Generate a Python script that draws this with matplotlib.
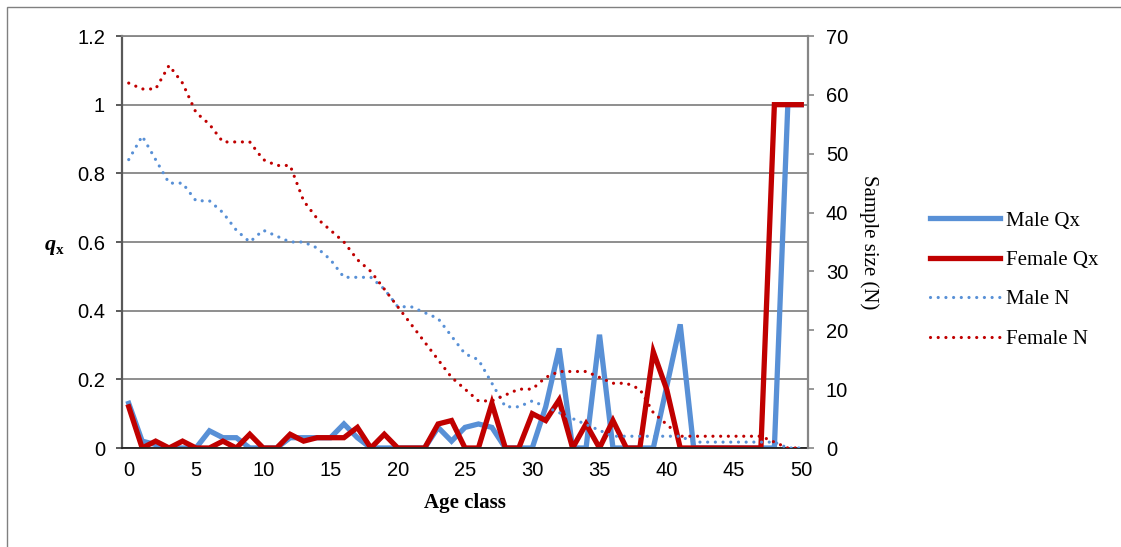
import numpy as np
import matplotlib.pyplot as plt
from matplotlib.patches import Rectangle

# age classes 0..50
age = np.arange(51)

male_qx = [0.13, 0.02, 0.01, 0, 0, 0, 0.05, 0.03, 0.03, 0, 0,
           0, 0.03, 0.03, 0.03, 0.03, 0.07, 0.03, 0, 0, 0,
           0, 0, 0.06, 0.02, 0.06, 0.07, 0.06, 0, 0, 0,
           0.12, 0.29, 0, 0, 0.33, 0, 0, 0, 0, 0.18,
           0.36, 0, 0, 0, 0, 0, 0, 0, 1, 1]

female_qx = [0.12, 0, 0.02, 0, 0.02, 0, 0, 0.02, 0, 0.04, 0,
             0, 0.04, 0.02, 0.03, 0.03, 0.03, 0.06, 0, 0.04, 0,
             0, 0, 0.07, 0.08, 0, 0, 0.13, 0, 0, 0.10,
             0.08, 0.14, 0, 0.07, 0, 0.08, 0, 0, 0.28, 0.17,
             0, 0, 0, 0, 0, 0, 0, 1, 1, 1]

male_n = [49, 53, 49, 45, 45, 42, 42, 40, 37, 35, 37,
          36, 35, 35, 34, 32, 29, 29, 29, 27, 24,
          24, 23, 22, 19, 16, 15, 11, 7, 7, 8,
          7, 6, 5, 4, 3, 2, 2, 2, 2, 2,
          2, 1, 1, 1, 1, 1, 1, 1, 0, 0]

female_n = [62, 61, 61, 65, 62, 57, 55, 52, 52, 52, 49,
            48, 48, 42, 39, 37, 35, 32, 30, 27, 24,
            21, 18, 15, 12, 10, 8, 8, 9, 10, 10,
            12, 13, 13, 13, 12, 11, 11, 10, 6, 4,
            2, 2, 2, 2, 2, 2, 2, 1, 0, 0]

blue = '#5890D6'
red = '#C00000'
W, H = 1121, 547

fig = plt.figure(figsize=(W / 100, H / 100), dpi=100)
fig.patches.append(Rectangle((7 / W, -0.1), 1.2, 1 - 7 / H + 0.1, transform=fig.transFigure,
                             fill=False, edgecolor='#808080', lw=1.0))

ax = fig.add_axes([122 / W, 1 - 448 / H, (808 - 122) / W, (448 - 36) / H])
ax2 = ax.twinx()

ax.plot(age, male_qx, color=blue, lw=3.8, solid_joinstyle='miter', label='Male Qx')
ax.plot(age, female_qx, color=red, lw=3.8, solid_joinstyle='miter', label='Female Qx')
dots = (0, (0.01, 2.4))
ax2.plot(age, male_n, color=blue, lw=2.3, ls=dots, dash_capstyle='round', label='Male N')
ax2.plot(age, female_n, color=red, lw=2.3, ls=dots, dash_capstyle='round', label='Female N')

ax.set_xlim(-0.5, 50.5)
ax.set_ylim(0, 1.2)
ax2.set_ylim(0, 70)

ax.set_xticks(np.arange(0, 51, 5))
ax.set_yticks(np.arange(0, 1.21, 0.2))
ax.set_yticklabels([f'{v:g}' for v in np.arange(0, 1.21, 0.2).round(1)])
ax2.set_yticks(np.arange(0, 71, 10))

ax.yaxis.grid(True, color='#868686', lw=1.3)
ax.set_axisbelow(True)

for lab in ax.get_xticklabels() + ax.get_yticklabels() + ax2.get_yticklabels():
    lab.set_fontfamily('Liberation Sans')
    lab.set_fontsize(14.5)

ax.tick_params(axis='x', length=0, pad=9)
ax.tick_params(axis='y', direction='out', length=4.3, width=1.2, color='#404040', pad=8)
ax2.tick_params(axis='y', direction='out', length=4.3, width=1.2, color='#868686', pad=8.5)

ax.spines['left'].set_color('#595959')
ax.spines['left'].set_linewidth(1.6)
ax.spines['bottom'].set_color('#202020')
ax.spines['bottom'].set_linewidth(1.3)
ax.spines['top'].set_color('#868686')
ax.spines['top'].set_linewidth(1.3)
ax.spines['right'].set_visible(False)
for s in ['left', 'top', 'bottom']:
    ax2.spines[s].set_visible(False)
ax2.spines['right'].set_color('#868686')
ax2.spines['right'].set_linewidth(1.6)

serif = 'Liberation Serif'
ax.set_xlabel('Age class', family=serif, fontweight='bold', fontsize=15, labelpad=10)
fig.text(45 / W, 1 - 250 / H, 'q', family=serif, fontweight='bold', style='italic',
         fontsize=16, ha='left', va='baseline')
fig.text(56 / W, 1 - 254 / H, 'x', family=serif, fontweight='bold',
         fontsize=11, ha='left', va='baseline')
fig.text(869 / W, 1 - 242 / H, 'Sample size (N)', family=serif, fontsize=15,
         rotation=-90, ha='center', va='center')

handles = ax.get_lines() + ax2.get_lines()
leg = ax2.legend(handles=handles, labels=[h.get_label() for h in handles],
                 loc='center left', bbox_to_anchor=(930 / W, 1 - 280 / H),
                 bbox_transform=fig.transFigure, frameon=False,
                 prop=dict(family=serif, size=15), handlelength=3.35,
                 handletextpad=0.3, labelspacing=0.95, borderpad=0, borderaxespad=0)

fig.savefig('out.png', dpi=100)
